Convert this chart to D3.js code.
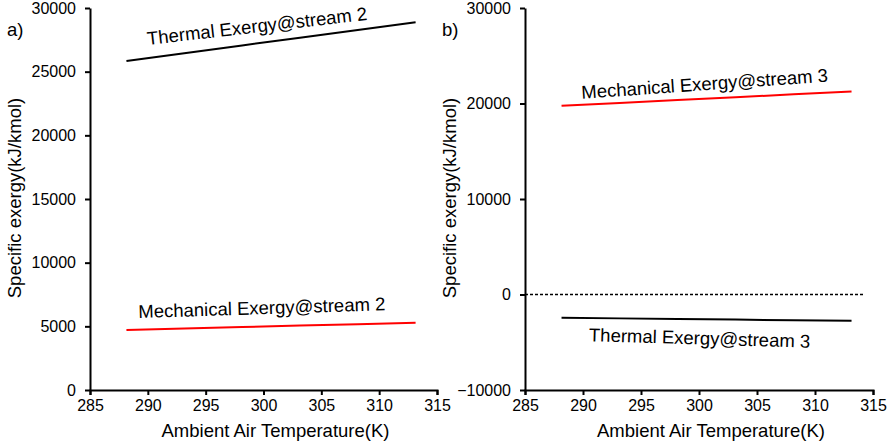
<!DOCTYPE html>
<meta charset="utf-8">
<style>
body { margin: 0; background: #fff; }
svg { font-family: "Liberation Sans", Arial, sans-serif; }
.axis path, .axis line { stroke: #000; stroke-width: 2px; }
.axis text { font-size: 16px; fill: #000; font-family: "Liberation Sans", Arial, sans-serif; }
.title { font-size: 18.5px; fill: #000; }
.lbl { font-size: 18.5px; fill: #000; }
</style>
<body>
<svg width="888" height="444"></svg>
<script src="https://cdn.jsdelivr.net/npm/d3@7/dist/d3.min.js"></script>
<script>

// ambient temperature (K)
var temps = [288.15, 293.15, 298.15, 303.15, 308.15, 313.15];

// panel a) stream 2
var thermal2 = [25840, 26450, 27060, 27660, 28270, 28880];
var mech2 = [4710, 4830, 4940, 5060, 5170, 5290];

// panel b) stream 3
var mech3 = [19760, 20060, 20360, 20660, 20960, 21260];
var thermal3 = [-2440, -2500, -2570, -2630, -2690, -2750];

var xTicks = [285, 290, 295, 300, 305, 310, 315];
var yTicksA = [0, 5000, 10000, 15000, 20000, 25000, 30000];
var yTicksB = [-10000, 0, 10000, 20000, 30000];

var svg = d3.select("svg");

function panel(cfg) {
  var x = d3.scaleLinear().domain([285, 315]).range([cfg.x0, cfg.x1]);
  var y = d3.scaleLinear().domain(cfg.ydom).range([390, 8]);
  var g = svg.append("g");

  g.append("g")
      .attr("class", "axis")
      .attr("transform", "translate(0," + y(cfg.ydom[0]) + ")")
      .call(d3.axisBottom(x).tickValues(xTicks).tickSize(5).tickSizeOuter(5).tickPadding(5));

  g.append("g")
      .attr("class", "axis")
      .attr("transform", "translate(" + cfg.x0 + ",0)")
      .call(d3.axisLeft(y).tickValues(cfg.yticks).tickSize(5).tickSizeOuter(0).tickPadding(9).tickFormat(d3.format("d")));

  if (cfg.zero) {
    g.append("line")
        .attr("x1", x(285)).attr("x2", x(314.2))
        .attr("y1", y(0)).attr("y2", y(0))
        .attr("stroke", "#000")
        .attr("stroke-width", 1.5)
        .attr("stroke-dasharray", "3,2");
  }

  var line = d3.line()
      .x(function(d) { return x(d[0]); })
      .y(function(d) { return y(d[1]); });

  cfg.series.forEach(function(s) {
    g.append("path")
        .datum(temps.map(function(t, i) { return [t, s.values[i]]; }))
        .attr("fill", "none")
        .attr("stroke", s.color)
        .attr("stroke-width", 2)
        .attr("d", line);

    g.append("text")
        .attr("class", "lbl")
        .attr("transform", "translate(" + x(s.lx) + "," + y(s.ly) + ") rotate(" + s.rot + ")")
        .text(s.name);
  });

  g.append("text")
      .attr("class", "title")
      .attr("x", (cfg.x0 + cfg.x1) / 2 + 12)
      .attr("y", 437)
      .attr("text-anchor", "middle")
      .text("Ambient Air Temperature(K)");

  g.append("text")
      .attr("class", "title")
      .attr("transform", "translate(" + (cfg.x0 - 69) + ",198) rotate(-90)")
      .attr("text-anchor", "middle")
      .text("Specific exergy(kJ/kmol)");

  g.append("text")
      .attr("class", "lbl")
      .attr("x", cfg.x0 - 83)
      .attr("y", 36)
      .text(cfg.tag);
}

panel({
  x0: 90, x1: 437, ydom: [0, 30000], yticks: yTicksA, tag: "a)", zero: false,
  series: [
    { name: "Thermal Exergy@stream 2", values: thermal2, color: "#000", lx: 290, ly: 27100, rot: -6.5 },
    { name: "Mechanical Exergy@stream 2", values: mech2, color: "#ff0000", lx: 289.2, ly: 5650, rot: -1.8 }
  ]
});

panel({
  x0: 525, x1: 873, ydom: [-10000, 30000], yticks: yTicksB, tag: "b)", zero: true,
  series: [
    { name: "Mechanical Exergy@stream 3", values: mech3, color: "#ff0000", lx: 289.9, ly: 20490, rot: -4 },
    { name: "Thermal Exergy@stream 3", values: thermal3, color: "#000", lx: 290.5, ly: -4890, rot: 1.7 }
  ]
});

</script>
</body>
